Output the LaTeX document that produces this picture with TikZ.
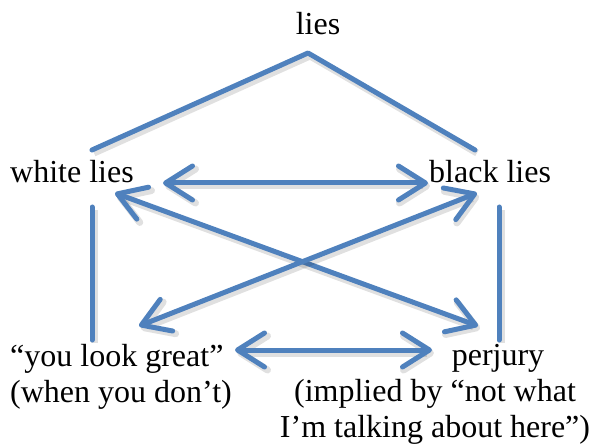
\documentclass[tikz,border=0pt]{standalone}
\usepackage{fontspec}
\setmainfont{Liberation Serif}
\usetikzlibrary{arrows.meta}
\definecolor{lineblue}{RGB}{79,129,189}
\begin{document}
\begin{tikzpicture}[x=1bp,y=-1bp,
  lbl/.style={inner sep=0pt, font=\fontsize{32bp}{36bp}\selectfont},
  link/.style={draw=lineblue, line width=5bp, line cap=round, line join=round,
    preaction={draw=black, draw opacity=.12, line width=7bp, transform canvas={shift={(2bp,-3bp)}}}},
  dbl/.style={link, {Straight Barb[length=27bp,width=34bp,round]}-{Straight Barb[length=27bp,width=34bp,round]}}
]
\useasboundingbox (0,0) rectangle (592,446);
% texts
\node[lbl, anchor=base] (lies) at (318,35) {lies};
\node[lbl, anchor=base west] (white) at (10,183) {white lies};
\node[lbl, anchor=base west] (black) at (429,183) {black lies};
\node[lbl, anchor=base west, align=left] (great) at (10,402) {“you look great”\\(when you don’t)};
\node[lbl, anchor=base] (perjury) at (498,365) {perjury};
\node[lbl, anchor=base, align=center] (implied) at (435,437) {(implied by “not what\\I’m talking about here”)};
% connector end points
\coordinate (apex) at (308,53);
\coordinate (tl) at (92,150);
\coordinate (tr) at (475,150);
\coordinate (hwl) at (163,183);
\coordinate (hwr) at (428,183);
\coordinate (dwl) at (115,193);
\coordinate (dpr) at (478,326);
\coordinate (dbr) at (477,193);
\coordinate (dyl) at (139,326);
\coordinate (vlt) at (92,207);
\coordinate (vlb) at (92,340);
\coordinate (vrt) at (499,207);
\coordinate (vrb) at (499,340);
\coordinate (bl) at (235,350);
\coordinate (br) at (432,350);
% connectors
\draw[link] (tl) -- (apex) -- (tr);
\draw[dbl] (hwl) -- (hwr);
\draw[dbl] (dwl) -- (dpr);
\draw[dbl] (dbr) -- (dyl);
\draw[link] (vlt) -- (vlb);
\draw[link] (vrt) -- (vrb);
\draw[dbl] (bl) -- (br);
\end{tikzpicture}
\end{document}
